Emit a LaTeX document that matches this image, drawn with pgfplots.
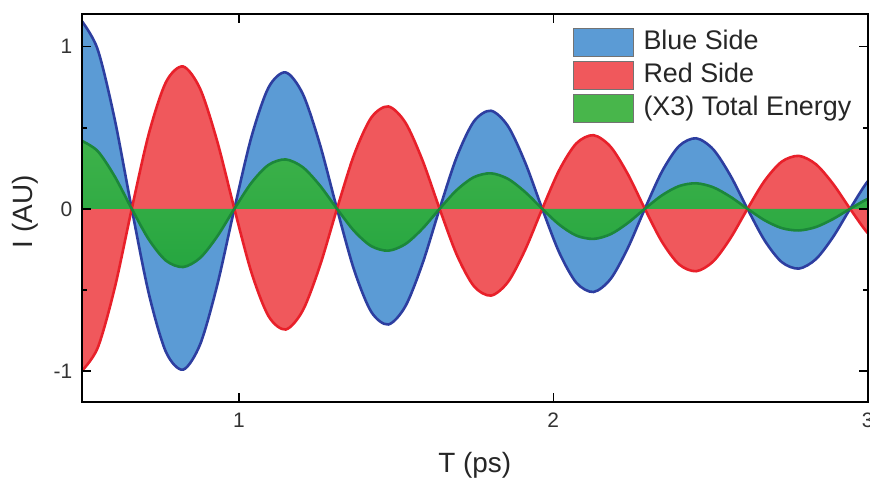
\documentclass[border=0pt]{standalone}
\usepackage{fontspec}
\setmainfont{Liberation Sans}
\usepackage{pgfplots}
\usepackage{pgfplotstable}
\pgfplotsset{compat=1.18}
\definecolor{bfill}{RGB}{91,155,213}
\definecolor{bline}{RGB}{45,62,160}
\definecolor{rfill}{RGB}{240,88,92}
\definecolor{rline}{RGB}{232,32,42}
\definecolor{gtop}{RGB}{62,178,74}
\definecolor{gmid}{RGB}{92,193,90}
\definecolor{gbot}{RGB}{38,166,64}
\definecolor{gline}{RGB}{28,135,58}
\definecolor{gleg}{RGB}{72,182,75}

\pgfplotstableread{
x b r g
0.4960 1.1700 -1.0100 0.4235
0.5504 0.9858 -0.8600 0.3569
0.6048 0.5538 -0.4901 0.2005
0.6592 0 0 0
0.7136 -0.5241 0.4638 -0.1897
0.7680 -0.8831 0.7815 -0.3197
0.8224 -0.9922 0.8781 -0.3592
0.8768 -0.8359 0.7398 -0.3026
0.9312 -0.4696 0.4156 -0.1700
0.9856 0 0 0
1.0400 0.4444 -0.3933 0.1609
1.0944 0.7489 -0.6628 0.2711
1.1488 0.8414 -0.7446 0.3046
1.2032 0.7089 -0.6274 0.2566
1.2576 0.3982 -0.3524 0.1441
1.3120 0 0 0
1.3664 -0.3769 0.3336 -0.1364
1.4208 -0.6351 0.5621 -0.2299
1.4752 -0.7135 0.6314 -0.2583
1.5296 -0.6011 0.5320 -0.2176
1.5840 -0.3377 0.2989 -0.1222
1.6384 0 0 0
1.6928 0.3196 -0.2828 0.1157
1.7472 0.5385 -0.4766 0.1949
1.8016 0.6050 -0.5354 0.2190
1.8560 0.5097 -0.4511 0.1845
1.9104 0.2863 -0.2534 0.1036
1.9648 0 0 0
2.0192 -0.2710 0.2398 -0.0981
2.0736 -0.4567 0.4042 -0.1653
2.1280 -0.5131 0.4541 -0.1857
2.1824 -0.4323 0.3826 -0.1565
2.2368 -0.2428 0.2149 -0.0879
2.2912 0 0 0
2.3456 0.2298 -0.2034 0.0832
2.4000 0.3873 -0.3428 0.1402
2.4544 0.4351 -0.3850 0.1575
2.5088 0.3666 -0.3244 0.1327
2.5632 0.2059 -0.1822 0.0745
2.6176 0 0 0
2.6720 -0.1949 0.1725 -0.0706
2.7264 -0.3284 0.2906 -0.1189
2.7808 -0.3689 0.3265 -0.1335
2.8352 -0.3108 0.2751 -0.1125
2.8896 -0.1746 0.1545 -0.0632
2.9440 0 0 0
2.9984 0.1653 -0.1463 0.0598
3.0528 0.2785 -0.2465 0.1008
}\data

\begin{document}
\begin{tikzpicture}
\begin{axis}[
 name=ax,
 scale only axis, width=786bp, height=387.4bp,
 xmin=0.5, xmax=3, ymin=-1.19, ymax=1.2,
 xtick={1,2,3}, xticklabels={1,2,3},
 ytick={-1,0,1}, yticklabels={-1,0,1},
 minor ytick={-0.5,0.5},
 tick align=inside,
 major tick length=9bp, minor tick length=5bp,
 every tick/.append style={black, line width=1.5bp},
 axis line style={line width=2bp, black},
 axis on top,
 ticklabel style={font=\fontsize{21}{25}\selectfont, text=black!80},
 yticklabel style={xshift=-6bp},
 xticklabel style={yshift=-8bp},
 xlabel={T (ps)}, ylabel={I (AU)},
 label style={font=\fontsize{28}{32}\selectfont, text=black!85},
 xlabel style={at={(axis description cs:0.5,-0.1833)}, anchor=base},
 ylabel style={at={(axis description cs:-0.062,0.49)}, anchor=base},
 legend cell align=left,
 legend style={at={(axis description cs:0.6247,0.964)}, anchor=north west,
   draw=none, fill=none, inner sep=0pt, outer sep=0pt,
   font=\fontsize{27}{32}\selectfont, row sep=4bp,
   nodes={inner sep=0pt, text height=20bp, text depth=6bp, text=black!85},
   /tikz/every odd column/.append style={column sep=10bp}},
]
\addplot[forget plot, draw=none, fill=bfill, smooth] table[x=x,y=b]{\data} \closedcycle;
\addplot[forget plot, draw=none, fill=rfill, smooth] table[x=x,y=r]{\data} \closedcycle;
\addplot[forget plot, draw=none, top color=gtop, middle color=gmid, bottom color=gbot, smooth] table[x=x,y=g]{\data} \closedcycle;
\addplot[forget plot, bline, line width=2.6bp, smooth] table[x=x,y=b]{\data};
\addplot[forget plot, rline, line width=2.6bp, smooth] table[x=x,y=r]{\data};
\addplot[forget plot, gline, line width=2.6bp, smooth] table[x=x,y=g]{\data};
\addlegendimage{legend image code/.code={\draw[fill=bfill,draw=black!55,line width=0.8bp] (0bp,-14bp) rectangle (60bp,14bp);}}
\addlegendentry{Blue Side}
\addlegendimage{legend image code/.code={\draw[fill=rfill,draw=black!55,line width=0.8bp] (0bp,-14bp) rectangle (60bp,14bp);}}
\addlegendentry{Red Side}
\addlegendimage{legend image code/.code={\draw[fill=gleg,draw=black!55,line width=0.8bp] (0bp,-14bp) rectangle (60bp,14bp);}}
\addlegendentry{(X3) Total Energy}
\end{axis}
\pgfresetboundingbox
\path[use as bounding box] ([shift={(-81.7bp,-77.3bp)}]ax.south west) rectangle ([shift={(2.3bp,14.3bp)}]ax.north east);
\end{tikzpicture}
\end{document}
